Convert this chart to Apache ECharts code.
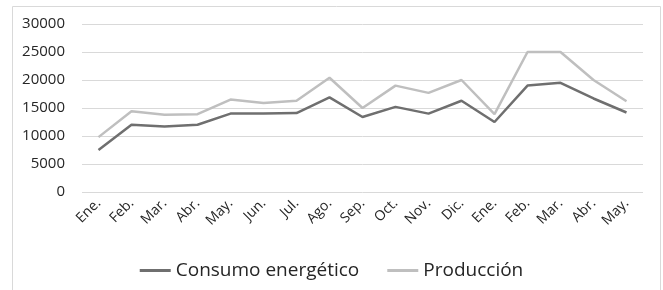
<!DOCTYPE html>
<html>
<head>
<meta charset="utf-8">
<script src="https://cdn.jsdelivr.net/npm/echarts@6/dist/echarts.min.js"></script>
<style>
  html, body { margin: 0; padding: 0; background: #fff; }
  #main { width: 663px; height: 290px; }
</style>
</head>
<body>
<div id="main"></div>
<script>
var meses = ['Ene.', 'Feb.', 'Mar.', 'Abr.', 'May.', 'Jun.', 'Jul.', 'Ago.', 'Sep.', 'Oct.', 'Nov.', 'Dic.', 'Ene.', 'Feb.', 'Mar.', 'Abr.', 'May.'];
var consumo = [7500, 12000, 11700, 12000, 14000, 14000, 14100, 16900, 13400, 15200, 14000, 16300, 12500, 19000, 19500, 16700, 14200];
var produccion = [9800, 14400, 13800, 13900, 16500, 15900, 16300, 20400, 15000, 19000, 17700, 20000, 13900, 25000, 25000, 20000, 16200];
var nombres = ['Consumo energético', 'Producción'];

var chart = echarts.init(document.getElementById('main'));

var option = {
    animation: false,
    textStyle: { fontFamily: 'Open Sans' },
    graphic: [{
        type: 'rect',
        shape: { x: 12.5, y: 6.5, width: 648, height: 300 },
        style: { fill: 'none', stroke: '#d9d9d9', lineWidth: 1 }
    }],
    grid: { left: 82, right: 20, top: 24, height: 168 },
    legend: {
        data: nombres,
        left: 'center',
        top: 256,
        icon: 'rect',
        itemWidth: 31,
        itemHeight: 3,
        itemGap: 28,
        textStyle: { fontSize: 19, color: '#262626', fontFamily: 'Open Sans' }
    },
    xAxis: {
        type: 'category',
        data: meses,
        boundaryGap: true,
        axisLine: { show: false },
        axisTick: { show: false },
        axisLabel: { rotate: 45, fontSize: 14, color: '#262626', margin: 9, interval: 0 }
    },
    yAxis: {
        type: 'value',
        min: 0,
        max: 30000,
        interval: 5000,
        axisLine: { show: false },
        axisTick: { show: false },
        axisLabel: {
            fontSize: 15,
            color: '#262626',
            margin: 17,
            formatter: function (v) { return String(v); }
        },
        splitLine: { lineStyle: { color: '#d9d9d9' } }
    },
    series: [
        {
            name: nombres[0],
            type: 'line',
            data: consumo,
            symbol: 'none',
            lineStyle: { color: '#6f6f6f', width: 2.5 },
            itemStyle: { color: '#6f6f6f' }
        },
        {
            name: nombres[1],
            type: 'line',
            data: produccion,
            symbol: 'none',
            lineStyle: { color: '#bfbfbf', width: 2.5 },
            itemStyle: { color: '#bfbfbf' }
        }
    ]
};

chart.setOption(option);
</script>
</body>
</html>
